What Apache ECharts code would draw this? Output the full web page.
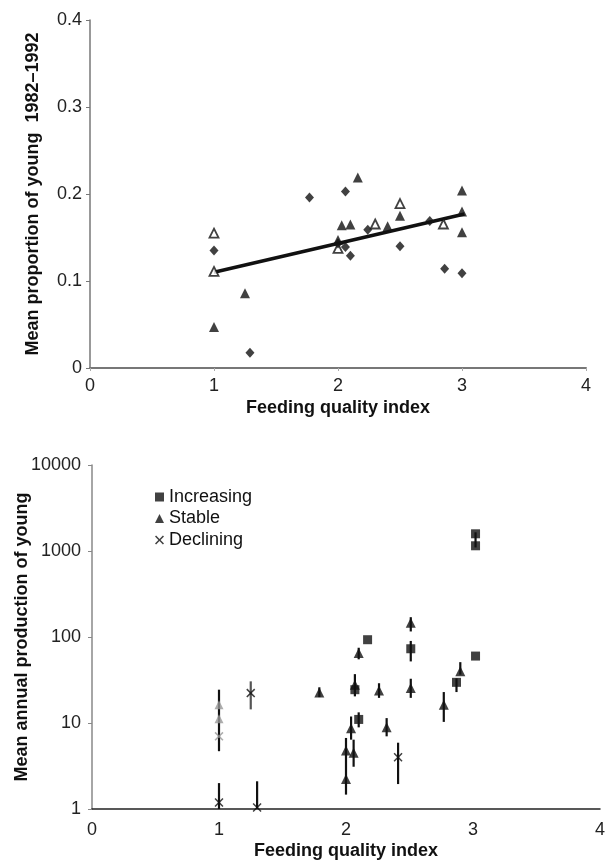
<!DOCTYPE html>
<html>
<head>
<meta charset="utf-8">
<script src="https://cdn.jsdelivr.net/npm/echarts@6/dist/echarts.min.js"></script>
<style>
html,body{margin:0;padding:0;background:#fff;}
#c{width:611px;height:861px;}
</style>
</head>
<body>
<div id="c"></div>
<script>
// ---------- Top panel data ----------
var filledTriX = [1.0, 1.25, 2.0, 2.03, 2.10, 2.16, 2.40, 2.5, 3.0, 3.0, 3.0];
var filledTriY = [0.047, 0.086, 0.147, 0.164, 0.165, 0.219, 0.163, 0.175, 0.204, 0.180, 0.156];
var openTriX = [1.0, 1.0, 2.0, 2.30, 2.5, 2.85];
var openTriY = [0.155, 0.111, 0.1375, 0.1655, 0.189, 0.1655];
var diamondX = [1.0, 1.29, 1.77, 2.06, 2.06, 2.10, 2.0, 2.24, 2.5, 2.74, 2.86, 3.0];
var diamondY = [0.135, 0.0176, 0.196, 0.203, 0.139, 0.129, 0.143, 0.159, 0.140, 0.169, 0.114, 0.109];
var trendX = [1.0, 3.02];
var trendY = [0.110, 0.177];

// ---------- Bottom panel data ----------
var increasingX = [2.17, 2.51, 3.02, 2.07, 2.10, 2.87, 3.02, 3.02];
var increasingY = [93, 73, 60, 24.4, 11, 29.7, 1585, 1150];
var stableX = [2.51, 2.10, 1.79, 2.07, 2.26, 2.51, 2.90, 2.77, 2.04, 2.32, 2.0, 2.06, 2.0];
var stableY = [146, 65, 22.7, 27.9, 23.8, 25.5, 40, 16.3, 8.7, 8.9, 4.8, 4.5, 2.23];
var stableGrayX = [1.0, 1.0];
var stableGrayY = [16.3, 11.2];
var decliningX = [1.25, 2.41, 1.0, 1.30];
var decliningY = [22.3, 4.0, 1.19, 1.04];
var decliningGrayX = [1.0];
var decliningGrayY = [7.0];
// error bars: x, low, high
var errX    = [1.0, 1.0, 1.25, 1.30, 2.41, 2.0, 2.06, 2.04, 2.32, 2.07, 2.10, 2.51, 2.51, 2.51, 2.77, 2.90, 2.87, 2.26, 2.10, 1.79, 3.02];
var errLow  = [4.7, 1.0, 14.4, 1.0, 1.95, 1.47, 3.1, 6.4, 7.0, 20.4, 8.9, 116, 52, 19.6, 10.3, 36.5, 22.9, 19.6, 55, 20, 1100];
var errHigh = [24.4, 2.0, 30.5, 2.1, 5.9, 6.7, 6.4, 11.9, 11.4, 37, 13.3, 170, 90, 32.7, 22.9, 51, 33, 29, 75, 26, 1650];
var errGray = [false, false, true, false, false, false, false, false, false, false, false, false, false, false, false, false, false, false, false, false, false];

var topXTicks = [0, 1, 2, 3, 4];
var topYTicks = [0, 0.1, 0.2, 0.3, 0.4];
var botYTicks = [1, 10, 100, 1000, 10000];

function zip(a, b) { return a.map(function (v, i) { return [v, b[i]]; }); }

var FONT = 'Liberation Sans, Arial, sans-serif';
var crossPath = 'path://M0,1.2L1.2,0L5,3.8L8.8,0L10,1.2L6.2,5L10,8.8L8.8,10L5,6.2L1.2,10L0,8.8L3.8,5Z';

var chart = echarts.init(document.getElementById('c'), null, {renderer: 'canvas'});

var option = {
  animation: false,
  backgroundColor: '#fff',
  textStyle: {fontFamily: FONT},
  grid: [
    {left: 90, top: 20, width: 496, height: 348, containLabel: false, outerBoundsMode: 'none'},
    {left: 92, top: 465, width: 508, height: 344, containLabel: false, outerBoundsMode: 'none'}
  ],
  legend: {
    left: 155, top: 488, orient: 'vertical', padding: 0,
    itemWidth: 9, itemHeight: 9, itemGap: 3.5,
    textStyle: {fontSize: 18, color: '#111', fontFamily: FONT, lineHeight: 18},
    data: [
      {name: 'Increasing', icon: 'rect'},
      {name: 'Stable', icon: 'triangle'},
      {name: 'Declining', icon: crossPath}
    ]
  },
  xAxis: [
    {
      gridIndex: 0, type: 'value', min: topXTicks[0], max: topXTicks[topXTicks.length - 1], interval: 1,
      name: 'Feeding quality index', nameLocation: 'middle', nameGap: 31,
      nameTextStyle: {fontSize: 18, fontWeight: 'bold', color: '#111', fontFamily: FONT},
      axisLine: {lineStyle: {color: '#777', width: 2}},
      axisTick: {show: true, length: 3, lineStyle: {color: '#aaa'}},
      axisLabel: {fontSize: 18, color: '#222', margin: 9, fontFamily: FONT},
      splitLine: {show: false}
    },
    {
      gridIndex: 1, type: 'value', min: 0, max: 4, interval: 1,
      name: 'Feeding quality index', nameLocation: 'middle', nameGap: 33,
      nameTextStyle: {fontSize: 18, fontWeight: 'bold', color: '#111', fontFamily: FONT},
      axisLine: {lineStyle: {color: '#222', width: 1.5}},
      axisTick: {show: false},
      axisLabel: {fontSize: 18, color: '#222', margin: 12, fontFamily: FONT},
      splitLine: {show: false}
    }
  ],
  yAxis: [
    {
      gridIndex: 0, type: 'value', min: topYTicks[0], max: topYTicks[topYTicks.length - 1], interval: 0.1,
      name: 'Mean proportion of young  1982–1992', nameLocation: 'middle', nameGap: 48, nameMoveOverlap: false,
      nameTextStyle: {fontSize: 18, fontWeight: 'bold', color: '#111', fontFamily: FONT},
      axisLine: {show: true, lineStyle: {color: '#777', width: 1.5}},
      axisTick: {show: true, length: 4, lineStyle: {color: '#777'}},
      axisLabel: {fontSize: 18, color: '#222', margin: 8, fontFamily: FONT,
        formatter: function (v) { return v === 0 ? '0' : v.toFixed(1); }},
      splitLine: {show: false}
    },
    {
      gridIndex: 1, type: 'log', logBase: 10, min: botYTicks[0], max: botYTicks[botYTicks.length - 1],
      name: 'Mean annual production of young', nameLocation: 'middle', nameGap: 61, nameMoveOverlap: false,
      nameTextStyle: {fontSize: 18, fontWeight: 'bold', color: '#111', fontFamily: FONT},
      axisLine: {show: true, lineStyle: {color: '#888', width: 1.5}},
      axisTick: {show: true, length: 4, lineStyle: {color: '#888'}},
      axisLabel: {fontSize: 18, color: '#222', margin: 11, fontFamily: FONT,
        formatter: function (v) { return String(Math.round(v)); }},
      splitLine: {show: false},
      minorTick: {show: false}
    }
  ],
  series: [
    {
      name: 'trend', type: 'line', xAxisIndex: 0, yAxisIndex: 0,
      data: zip(trendX, trendY), symbol: 'none', z: 3,
      lineStyle: {color: '#111', width: 3.5}
    },
    {
      name: 'Filled', type: 'scatter', xAxisIndex: 0, yAxisIndex: 0,
      data: zip(filledTriX, filledTriY), symbol: 'triangle', symbolSize: 10, z: 4,
      itemStyle: {color: '#111'}
    },
    {
      name: 'Open', type: 'scatter', xAxisIndex: 0, yAxisIndex: 0,
      data: zip(openTriX, openTriY), symbol: 'triangle', symbolSize: 9, z: 4,
      itemStyle: {color: '#fff', borderColor: '#111', borderWidth: 1.8}
    },
    {
      name: 'Diamond', type: 'scatter', xAxisIndex: 0, yAxisIndex: 0,
      data: zip(diamondX, diamondY), symbol: 'diamond', symbolSize: [9, 10], z: 4,
      itemStyle: {color: '#111'}
    },
    {
      name: 'errbars', type: 'custom', xAxisIndex: 1, yAxisIndex: 1, z: 2,
      data: errX.map(function (x, i) { return [x, errLow[i], errHigh[i], errGray[i] ? 1 : 0]; }),
      renderItem: function (params, api) {
        var p1 = api.coord([api.value(0), api.value(1)]);
        var p2 = api.coord([api.value(0), api.value(2)]);
        var gray = api.value(3) === 1;
        return {
          type: 'line',
          shape: {x1: p1[0], y1: p1[1], x2: p2[0], y2: p2[1]},
          style: {stroke: gray ? '#555' : '#111', lineWidth: 2.2}
        };
      },
      encode: {x: 0, y: [1, 2]}
    },
    {
      name: 'Increasing', type: 'scatter', xAxisIndex: 1, yAxisIndex: 1,
      data: zip(increasingX, increasingY), symbol: 'rect', symbolSize: 9, z: 4,
      itemStyle: {color: '#111'}
    },
    {
      name: 'Stable', type: 'scatter', xAxisIndex: 1, yAxisIndex: 1,
      data: zip(stableX, stableY), symbol: 'triangle', symbolSize: 10, z: 4,
      itemStyle: {color: '#111'}
    },
    {
      name: 'StableGray', type: 'scatter', xAxisIndex: 1, yAxisIndex: 1,
      data: zip(stableGrayX, stableGrayY), symbol: 'triangle', symbolSize: 9, z: 4,
      itemStyle: {color: '#999'}
    },
    {
      name: 'Declining', type: 'scatter', xAxisIndex: 1, yAxisIndex: 1,
      data: zip(decliningX, decliningY), symbol: crossPath, symbolSize: 9, z: 4,
      itemStyle: {color: '#111'}
    },
    {
      name: 'DecliningGray', type: 'scatter', xAxisIndex: 1, yAxisIndex: 1,
      data: zip(decliningGrayX, decliningGrayY), symbol: crossPath, symbolSize: 9, z: 4,
      itemStyle: {color: '#999'}
    }
  ]
};
chart.setOption(option);
</script>
</body>
</html>
